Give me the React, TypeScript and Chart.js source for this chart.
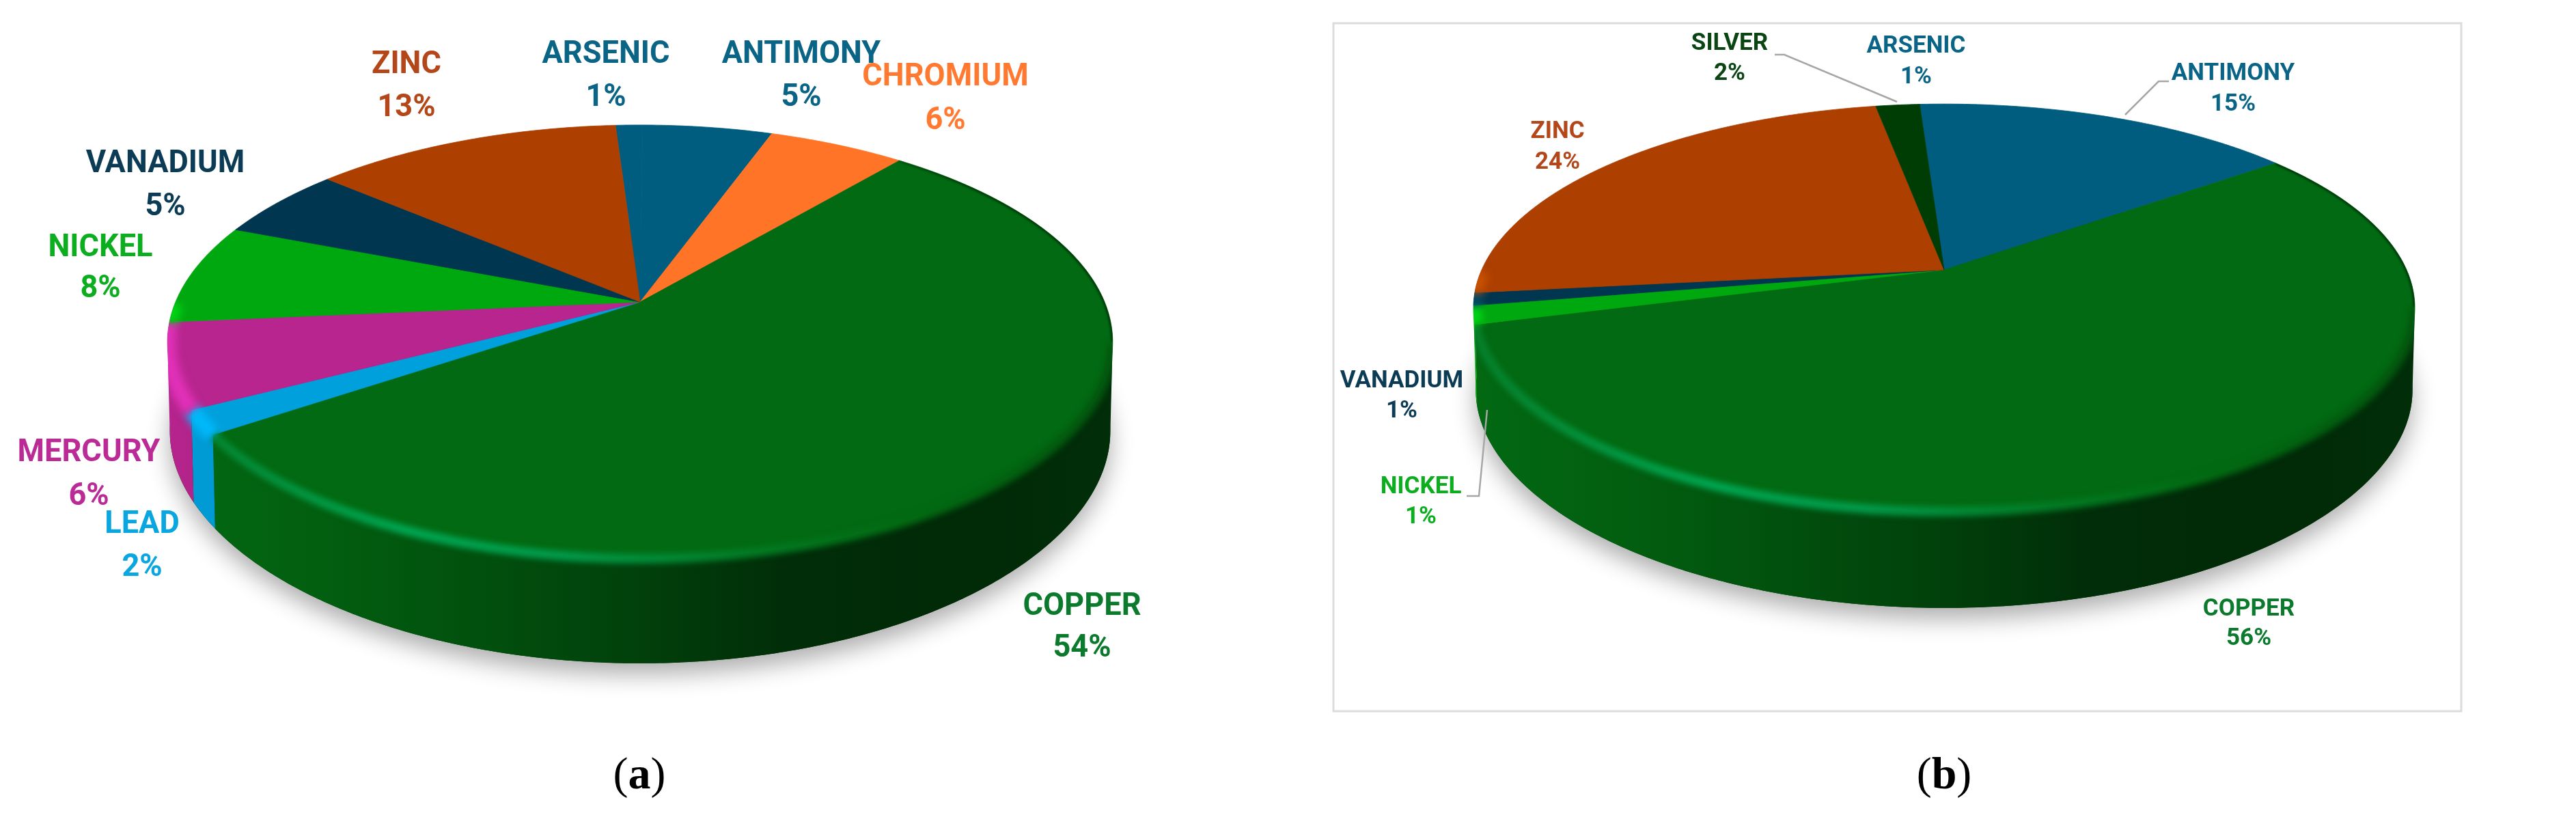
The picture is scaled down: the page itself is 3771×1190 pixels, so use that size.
import React, { useEffect, useRef } from "react";
import { Chart, registerables } from "chart.js";

Chart.register(...registerables);

// ---- data (slice sizes; the printed labels are these values rounded) ----
const categoriesA = ["ARSENIC", "ANTIMONY", "CHROMIUM", "COPPER", "LEAD", "MERCURY", "NICKEL", "VANADIUM", "ZINC"];
const valuesA = [1.1, 5.3, 5.6, 54.4, 1.8, 6.3, 7.5, 5.4, 12.6];
const categoriesB = ["ARSENIC", "ANTIMONY", "COPPER", "NICKEL", "VANADIUM", "ZINC", "SILVER"];
const valuesB = [1, 14.7, 56.05, 1.45, 1, 24, 1.8];

// ---- styles ----
const sliceColors: Record<string, string> = {
  ARSENIC: "#005d80", ANTIMONY: "#005d80", CHROMIUM: "#ff7427", COPPER: "#026a12", LEAD: "#00a0dc",
  MERCURY: "#b8258f", NICKEL: "#00a80f", VANADIUM: "#00364f", ZINC: "#ad3f00", SILVER: "#003d05",
};
const labelColors: Record<string, string> = {
  ARSENIC: "#0a6485", ANTIMONY: "#0a6485", CHROMIUM: "#ff7a30", COPPER: "#0b7a2d", LEAD: "#0aa6e0",
  MERCURY: "#bb2b96", NICKEL: "#0cae20", VANADIUM: "#0c3c55", ZINC: "#b4471a", SILVER: "#0b4514",
};
const rimColors: Record<string, string> = {
  LEAD: "#00b8fa", MERCURY: "#e030b8", NICKEL: "#00d414", VANADIUM: "#004a6a",
  ZINC: "#c85000", ARSENIC: "#0070a0", ANTIMONY: "#0070a0", CHROMIUM: "#ff8a40", SILVER: "#005008",
};

const FONT = 'Roboto, sans-serif';

type Geo = { cx: number; cy: number; a: number; b: number; k: number; d0: number; d1: number; shrink: number };
type Lab = { name: string; x: number; y1: number; y2: number };
type Panel = {
  originX: number; width: number; geo: Geo; fontSize: number; stretch: number;
  labels: Lab[]; caption: { text: string; x: number; y: number };
  leaders: number[][][]; box?: number[];
};

const panelA: Panel = {
  originX: 0, width: 1890,
  geo: { cx: 937, cy: 442, a: 680, b: 306.7, k: 0.184, d0: 130, d1: 23, shrink: 0.995 },
  fontSize: 47, stretch: 0.96,
  labels: [
    { name: "ZINC", x: 595, y1: 95, y2: 158 },
    { name: "ARSENIC", x: 887, y1: 80, y2: 143 },
    { name: "ANTIMONY", x: 1173, y1: 80, y2: 143 },
    { name: "CHROMIUM", x: 1384, y1: 113, y2: 177 },
    { name: "VANADIUM", x: 242, y1: 240, y2: 303 },
    { name: "NICKEL", x: 147, y1: 363, y2: 423 },
    { name: "MERCURY", x: 130, y1: 663, y2: 727 },
    { name: "LEAD", x: 208, y1: 768, y2: 831 },
    { name: "COPPER", x: 1584, y1: 888, y2: 949 },
  ],
  caption: { text: "a", x: 936, y: 1137 },
  leaders: [],
};

const panelB: Panel = {
  originX: 1890, width: 1881,
  geo: { cx: 2846, cy: 395, a: 677, b: 288, k: 0.186, d0: 120, d1: 21, shrink: 0.995 },
  fontSize: 35, stretch: 1,
  labels: [
    { name: "SILVER", x: 2532, y1: 64, y2: 108 },
    { name: "ARSENIC", x: 2805, y1: 68, y2: 113 },
    { name: "ANTIMONY", x: 3269, y1: 108, y2: 153 },
    { name: "ZINC", x: 2280, y1: 193, y2: 238 },
    { name: "VANADIUM", x: 2052, y1: 558, y2: 602 },
    { name: "NICKEL", x: 2080, y1: 713, y2: 757 },
    { name: "COPPER", x: 3292, y1: 892, y2: 935 },
  ],
  caption: { text: "b", x: 2846, y: 1137 },
  leaders: [
    [[2598, 80], [2612, 80], [2777, 149]],
    [[3175, 119], [3160, 119], [3111, 168]],
    [[2147, 726], [2165, 726], [2177, 600]],
  ],
  box: [1952, 34, 3603, 1041],
};

function shade(hex: string, f: number) {
  const n = parseInt(hex.slice(1), 16);
  const c = (v: number) => Math.round(Math.min(255, v * f));
  return `rgb(${c((n >> 16) & 255)},${c((n >> 8) & 255)},${c(n & 255)})`;
}

function top(g: Geo, phi: number) {
  const x = Math.cos(phi), y = Math.sin(phi), d = 1 - g.k * y;
  return [g.cx + (g.a * x) / d, g.cy + (g.b * y) / d];
}
function bottom(g: Geo, phi: number) {
  const p = top(g, phi);
  const s = Math.sin(phi);
  return [g.cx + (p[0] - g.cx) * g.shrink, p[1] + g.d0 + g.d1 * s * s];
}
const STEP = Math.PI / 360;
function tracePhis(s: number, e: number) {
  const out: number[] = [];
  for (let p = s; p < e; p += STEP) out.push(p);
  out.push(e);
  return out;
}

function wallGradient(ctx: CanvasRenderingContext2D, g: Geo, col: string) {
  const gr = ctx.createLinearGradient(g.cx - g.a, 0, g.cx + g.a, 0);
  gr.addColorStop(0, shade(col, 0.98));
  gr.addColorStop(0.15, shade(col, 0.9));
  gr.addColorStop(0.35, shade(col, 0.74));
  gr.addColorStop(0.5, shade(col, 0.6));
  gr.addColorStop(0.66, shade(col, 0.42));
  gr.addColorStop(0.85, shade(col, 0.4));
  gr.addColorStop(1, shade(col, 0.42));
  return gr;
}

function pie3dPlugin(panel: Panel, cats: string[], vals: number[]) {
  return {
    id: "pie3d",
    beforeDatasetsDraw(chart: any) {
      const ctx: CanvasRenderingContext2D = chart.ctx;
      const g = panel.geo;
      const arcs = chart.getDatasetMeta(0).data;
      const front = (p: number) => Math.sin(p) >= g.k;
      ctx.save();
      ctx.translate(-panel.originX, 0);

      // frame
      if (panel.box) {
        const [l, t, r, b] = panel.box;
        ctx.strokeStyle = "#dcdcdc";
        ctx.lineWidth = 3;
        ctx.strokeRect(l, t, r - l, b - t);
      }

      const full = tracePhis(0, Math.PI * 2);
      // soft shadow under the disc
      ctx.save();
      ctx.shadowColor = "rgba(0,0,0,0.32)";
      ctx.shadowBlur = 34;
      ctx.shadowOffsetY = 16;
      ctx.fillStyle = "#013a08";
      ctx.beginPath();
      full.forEach((p, i) => {
        const q = bottom(g, p);
        i ? ctx.lineTo(q[0], q[1]) : ctx.moveTo(q[0], q[1]);
      });
      ctx.closePath();
      ctx.fill();
      ctx.restore();

      // walls
      arcs.forEach((arc: any, i: number) => {
        const { startAngle, endAngle } = arc.getProps(["startAngle", "endAngle"], true);
        const col = sliceColors[cats[i]];
        const phis = tracePhis(startAngle, endAngle).filter(front);
        if (phis.length < 2) return;
        ctx.fillStyle = wallGradient(ctx, g, col);
        ctx.beginPath();
        phis.forEach((p, j) => {
          const q = top(g, p);
          j ? ctx.lineTo(q[0], q[1]) : ctx.moveTo(q[0], q[1]);
        });
        phis.slice().reverse().forEach((p) => {
          const q = bottom(g, p);
          ctx.lineTo(q[0], q[1]);
        });
        ctx.closePath();
        ctx.fill();
      });

      // top faces
      arcs.forEach((arc: any) => {
        const { startAngle, endAngle } = arc.getProps(["startAngle", "endAngle"], true);
        ctx.fillStyle = arc.options.backgroundColor;
        ctx.strokeStyle = arc.options.backgroundColor;
        ctx.lineWidth = 0.8;
        ctx.beginPath();
        ctx.moveTo(g.cx, g.cy);
        tracePhis(startAngle, endAngle).forEach((p) => {
          const q = top(g, p);
          ctx.lineTo(q[0], q[1]);
        });
        ctx.closePath();
        ctx.fill();
        ctx.stroke();
      });

      // bevel along the front rim, kept inside the solid's silhouette
      ctx.save();
      ctx.beginPath();
      full.forEach((p, i) => {
        const q = top(g, p);
        i ? ctx.lineTo(q[0], q[1]) : ctx.moveTo(q[0], q[1]);
      });
      ctx.closePath();
      full.forEach((p, i) => {
        const q = bottom(g, p);
        i ? ctx.lineTo(q[0], q[1]) : ctx.moveTo(q[0], q[1]);
      });
      ctx.closePath();
      const rA = Math.asin(g.k), lA = Math.PI - rA;
      const t1 = top(g, rA), b1 = bottom(g, rA), b2 = bottom(g, lA), t2 = top(g, lA);
      ctx.moveTo(t1[0], t1[1]);
      ctx.lineTo(b1[0], b1[1]);
      ctx.lineTo(b2[0], b2[1]);
      ctx.lineTo(t2[0], t2[1]);
      ctx.closePath();
      ctx.clip();
      arcs.forEach((arc: any, i: number) => {
        const { startAngle, endAngle } = arc.getProps(["startAngle", "endAngle"], true);
        const name = cats[i];
        const base = sliceColors[name];
        const all = tracePhis(startAngle, endAngle);
        const phis = name === "COPPER" ? all.filter(front) : all.filter((p) => Math.sin(p) >= 0);
        const gr = ctx.createLinearGradient(g.cx - g.a, 0, g.cx + g.a, 0);
        if (name === "COPPER") {
          // thin dark edge on the right of the disc
          const edge = ctx.createLinearGradient(g.cx - g.a, 0, g.cx + g.a, 0);
          edge.addColorStop(0.7, "rgba(1,50,8,0)");
          edge.addColorStop(0.86, "rgba(1,50,8,0.9)");
          edge.addColorStop(1, "rgba(1,50,8,0.9)");
          ctx.filter = "blur(1.5px)";
          ctx.strokeStyle = edge;
          ctx.lineWidth = 5;
          ctx.beginPath();
          all.filter((p) => Math.sin(p) < g.k).forEach((p, j) => {
            const q = top(g, p);
            j ? ctx.lineTo(q[0], q[1]) : ctx.moveTo(q[0], q[1]);
          });
          ctx.stroke();
          gr.addColorStop(0, "#06802c");
          gr.addColorStop(0.25, "#00a652");
          gr.addColorStop(0.42, "#029a4a");
          gr.addColorStop(0.62, "#037a24");
          gr.addColorStop(0.78, base);
          gr.addColorStop(1, shade(base, 0.8));
          ctx.lineWidth = 14;
        } else {
          gr.addColorStop(0, rimColors[name]);
          gr.addColorStop(1, rimColors[name]);
          ctx.lineWidth = 24;
        }
        if (phis.length < 2) return;
        ctx.filter = name === "COPPER" ? "blur(4px)" : "blur(6px)";
        ctx.strokeStyle = gr;
        ctx.beginPath();
        phis.forEach((p, j) => {
          const q = top(g, p);
          j ? ctx.lineTo(q[0], q[1]) : ctx.moveTo(q[0], q[1]);
        });
        ctx.stroke();
      });
      ctx.restore();

      ctx.restore();
      return false;
    },
    afterDraw(chart: any) {
      const ctx: CanvasRenderingContext2D = chart.ctx;
      ctx.save();
      ctx.translate(-panel.originX, 0);

      // leader lines
      ctx.strokeStyle = "#a6a6a6";
      ctx.lineWidth = 2.5;
      panel.leaders.forEach((ln) => {
        ctx.beginPath();
        ln.forEach((p, i) => (i ? ctx.lineTo(p[0], p[1]) : ctx.moveTo(p[0], p[1])));
        ctx.stroke();
      });

      // labels
      ctx.textAlign = "center";
      ctx.textBaseline = "middle";
      ctx.font = `bold ${panel.fontSize}px ${FONT}`;
      const put = (t: string, x: number, y: number) => {
        ctx.save();
        ctx.translate(x, y);
        ctx.scale(panel.stretch, 1);
        ctx.fillText(t, 0, 0);
        ctx.restore();
      };
      panel.labels.forEach((l) => {
        const idx = cats.indexOf(l.name);
        ctx.fillStyle = labelColors[l.name];
        put(l.name, l.x, l.y1);
        put(`${Math.round(vals[idx])}%`, l.x, l.y2);
      });

      // caption
      const c = panel.caption;
      ctx.fillStyle = "#000";
      ctx.textAlign = "left";
      ctx.textBaseline = "middle";
      const plain = '66px "Liberation Serif", serif';
      const bold = 'bold 66px "Liberation Serif", serif';
      ctx.font = plain;
      const pw = ctx.measureText("(").width;
      const cw = ctx.measureText(")").width;
      ctx.font = bold;
      const mw = ctx.measureText(c.text).width;
      let x = c.x - (pw + cw + mw) / 2;
      ctx.font = plain;
      ctx.fillText("(", x, c.y);
      x += pw;
      ctx.font = bold;
      ctx.fillText(c.text, x, c.y);
      x += mw;
      ctx.font = plain;
      ctx.fillText(")", x, c.y);
      ctx.restore();
    },
  };
}

function Pie({ panel, cats, vals }: { panel: Panel; cats: string[]; vals: number[] }) {
  const ref = useRef<HTMLCanvasElement | null>(null);
  useEffect(() => {
    const chart = new Chart(ref.current as HTMLCanvasElement, {
      type: "pie",
      data: {
        labels: cats,
        datasets: [{ data: vals, backgroundColor: cats.map((n) => sliceColors[n]), borderWidth: 0 }],
      },
      options: {
        responsive: false,
        animation: false,
        rotation: -3.6,
        plugins: { legend: { display: false }, tooltip: { enabled: false } },
      },
      plugins: [pie3dPlugin(panel, cats, vals)],
    } as any);
    return () => chart.destroy();
  }, []);
  return (
    <canvas
      ref={ref}
      width={panel.width}
      height={1190}
      style={{ position: "absolute", left: panel.originX, top: 0, width: panel.width, height: 1190, display: "block" }}
    />
  );
}

export default function App() {
  return (
    <div style={{ position: "fixed", left: 0, top: 0, width: 3771, height: 1190, background: "#fff", overflow: "hidden" }}>
      <Pie panel={panelA} cats={categoriesA} vals={valuesA} />
      <Pie panel={panelB} cats={categoriesB} vals={valuesB} />
    </div>
  );
}
